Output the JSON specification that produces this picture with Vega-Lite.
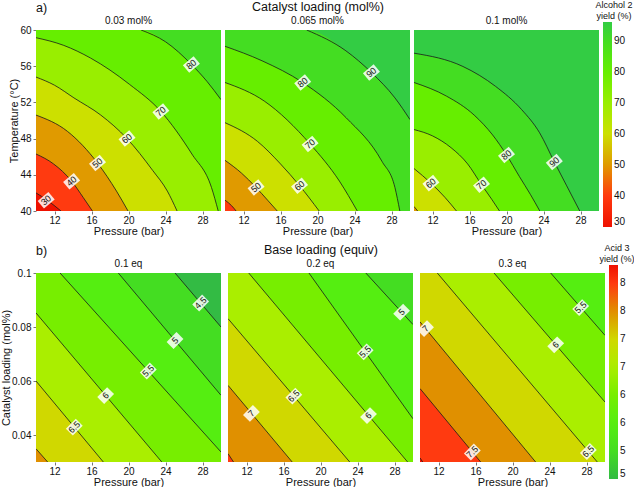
{
  "$schema": "https://vega.github.io/schema/vega-lite/v6.json",
  "background": "white",
  "padding": {"left": 0, "top": 0, "right": 0, "bottom": 0},
  "config": {
    "font": "Liberation Sans",
    "view": {"stroke": null},
    "axis": {"labelFontSize": 10, "titleFontSize": 11, "titleFontWeight": "normal", "labelColor": "#111", "titleColor": "#111", "domain": false, "grid": false, "tickSize": 3, "tickColor": "#777", "labelPadding": 2, "titlePadding": 0, "labelOverlap": false},
    "axisX": {"labelPadding": 1, "titlePadding": 0},
    "legend": {"labelFontSize": 10, "titleFontSize": 9, "titleLineHeight": 11, "titlePadding": 1, "titleFontWeight": "normal", "labelColor": "#111", "titleColor": "#111", "labelOverlap": false},
    "header": {"labelFontSize": 10, "titleFontSize": 12.5, "titleFontWeight": "normal", "labelColor": "#111", "titleColor": "#111"}
  },
  "resolve": {"scale": {"color": "independent"}},
  "columns": 1,
  "align": "none",
  "spacing": 7,
  "concat": [
    {
      "title": {"text": "a)", "anchor": "start", "frame": "group", "align": "left", "offset": -14, "fontSize": 12.5, "fontWeight": "normal", "color": "#111"},
      "data": {"values": [
        {"p":"0.03 mol%","k":"b","lv":90,"x":10,"y":60},{"p":"0.03 mol%","k":"b","lv":90,"x":30,"y":60},
        {"p":"0.03 mol%","k":"e","lv":80,"x":10,"y":60},{"p":"0.03 mol%","k":"c","lv":80,"x":21.36,"y":60},{"p":"0.03 mol%","k":"c","lv":80,"x":24,"y":58.7},{"p":"0.03 mol%","k":"c","lv":80,"x":26.8,"y":56.2},{"p":"0.03 mol%","k":"c","lv":80,"x":28.5,"y":54.3},{"p":"0.03 mol%","k":"c","lv":80,"x":30,"y":52.3},
        {"p":"0.03 mol%","k":"c","lv":70,"x":10,"y":59.15},{"p":"0.03 mol%","k":"c","lv":70,"x":13,"y":58.3},{"p":"0.03 mol%","k":"c","lv":70,"x":15.9,"y":56.9},{"p":"0.03 mol%","k":"c","lv":70,"x":20.1,"y":54},{"p":"0.03 mol%","k":"c","lv":70,"x":23.5,"y":51},{"p":"0.03 mol%","k":"c","lv":70,"x":26.85,"y":46.3},{"p":"0.03 mol%","k":"c","lv":70,"x":28.97,"y":42.6},{"p":"0.03 mol%","k":"c","lv":70,"x":29.7,"y":40},
        {"p":"0.03 mol%","k":"c","lv":60,"x":10,"y":54.8},{"p":"0.03 mol%","k":"c","lv":60,"x":12,"y":53.9},{"p":"0.03 mol%","k":"c","lv":60,"x":14.1,"y":52.5},{"p":"0.03 mol%","k":"c","lv":60,"x":17,"y":50.6},{"p":"0.03 mol%","k":"c","lv":60,"x":19.84,"y":48},{"p":"0.03 mol%","k":"c","lv":60,"x":22.6,"y":44.5},{"p":"0.03 mol%","k":"c","lv":60,"x":24.2,"y":42.2},{"p":"0.03 mol%","k":"c","lv":60,"x":25.25,"y":40},
        {"p":"0.03 mol%","k":"c","lv":50,"x":10,"y":50.6},{"p":"0.03 mol%","k":"c","lv":50,"x":13.4,"y":48.8},{"p":"0.03 mol%","k":"c","lv":50,"x":16.65,"y":45.3},{"p":"0.03 mol%","k":"c","lv":50,"x":18.7,"y":42.2},{"p":"0.03 mol%","k":"c","lv":50,"x":19.95,"y":40},
        {"p":"0.03 mol%","k":"c","lv":40,"x":10,"y":46.3},{"p":"0.03 mol%","k":"c","lv":40,"x":11.9,"y":45.2},{"p":"0.03 mol%","k":"c","lv":40,"x":13.85,"y":43.3},{"p":"0.03 mol%","k":"c","lv":40,"x":15.1,"y":41.5},{"p":"0.03 mol%","k":"c","lv":40,"x":16.1,"y":40},
        {"p":"0.03 mol%","k":"c","lv":30,"x":10,"y":42},{"p":"0.03 mol%","k":"c","lv":30,"x":11.2,"y":41.2},{"p":"0.03 mol%","k":"c","lv":30,"x":12.7,"y":40},
        {"p":"0.03 mol%","k":"l","lv":30,"x":11.1,"y":41.2},{"p":"0.03 mol%","k":"l","lv":40,"x":13.85,"y":43.3},{"p":"0.03 mol%","k":"l","lv":50,"x":16.65,"y":45.3},{"p":"0.03 mol%","k":"l","lv":60,"x":19.84,"y":48},{"p":"0.03 mol%","k":"l","lv":70,"x":23.5,"y":51},{"p":"0.03 mol%","k":"l","lv":80,"x":26.8,"y":56.2},

        {"p":"0.065 mol%","k":"b","lv":96,"x":10,"y":60},{"p":"0.065 mol%","k":"b","lv":96,"x":30,"y":60},
        {"p":"0.065 mol%","k":"e","lv":90,"x":10,"y":60},{"p":"0.065 mol%","k":"c","lv":90,"x":18.83,"y":60},{"p":"0.065 mol%","k":"c","lv":90,"x":23.07,"y":57.7},{"p":"0.065 mol%","k":"c","lv":90,"x":25.83,"y":55.3},{"p":"0.065 mol%","k":"c","lv":90,"x":28.37,"y":52.5},{"p":"0.065 mol%","k":"c","lv":90,"x":30,"y":50.1},
        {"p":"0.065 mol%","k":"c","lv":80,"x":10,"y":58.2},{"p":"0.065 mol%","k":"c","lv":80,"x":14,"y":56.6},{"p":"0.065 mol%","k":"c","lv":80,"x":18.4,"y":54.2},{"p":"0.065 mol%","k":"c","lv":80,"x":23.1,"y":50.3},{"p":"0.065 mol%","k":"c","lv":80,"x":26.96,"y":45.5},{"p":"0.065 mol%","k":"c","lv":80,"x":28.37,"y":42.6},{"p":"0.065 mol%","k":"c","lv":80,"x":28.9,"y":40},
        {"p":"0.065 mol%","k":"c","lv":70,"x":10,"y":54.2},{"p":"0.065 mol%","k":"c","lv":70,"x":14.24,"y":52.15},{"p":"0.065 mol%","k":"c","lv":70,"x":19.2,"y":47.4},{"p":"0.065 mol%","k":"c","lv":70,"x":22.37,"y":43.3},{"p":"0.065 mol%","k":"c","lv":70,"x":24.3,"y":40},
        {"p":"0.065 mol%","k":"c","lv":60,"x":10,"y":49.76},{"p":"0.065 mol%","k":"c","lv":60,"x":13.5,"y":47.7},{"p":"0.065 mol%","k":"c","lv":60,"x":16,"y":45.2},{"p":"0.065 mol%","k":"c","lv":60,"x":18.06,"y":42.8},{"p":"0.065 mol%","k":"c","lv":60,"x":20.18,"y":40},
        {"p":"0.065 mol%","k":"c","lv":50,"x":10,"y":45.6},{"p":"0.065 mol%","k":"c","lv":50,"x":11.77,"y":44.2},{"p":"0.065 mol%","k":"c","lv":50,"x":13.36,"y":42.6},{"p":"0.065 mol%","k":"c","lv":50,"x":14.6,"y":41.2},{"p":"0.065 mol%","k":"c","lv":50,"x":15.65,"y":40},
        {"p":"0.065 mol%","k":"c","lv":40,"x":10,"y":41.2},{"p":"0.065 mol%","k":"c","lv":40,"x":10.7,"y":40.6},{"p":"0.065 mol%","k":"c","lv":40,"x":11.2,"y":40},
        {"p":"0.065 mol%","k":"l","lv":50,"x":13.36,"y":42.6},{"p":"0.065 mol%","k":"l","lv":60,"x":18.06,"y":42.8},{"p":"0.065 mol%","k":"l","lv":70,"x":19.2,"y":47.4},{"p":"0.065 mol%","k":"l","lv":80,"x":18.4,"y":54.2},{"p":"0.065 mol%","k":"l","lv":90,"x":25.83,"y":55.3},

        {"p":"0.1 mol%","k":"b","lv":96,"x":10,"y":60},{"p":"0.1 mol%","k":"b","lv":96,"x":30,"y":60},
        {"p":"0.1 mol%","k":"c","lv":90,"x":10,"y":57.44},{"p":"0.1 mol%","k":"c","lv":90,"x":15.29,"y":55.97},{"p":"0.1 mol%","k":"c","lv":90,"x":18.82,"y":53.77},{"p":"0.1 mol%","k":"c","lv":90,"x":21.64,"y":51.2},{"p":"0.1 mol%","k":"c","lv":90,"x":23.58,"y":48.64},{"p":"0.1 mol%","k":"c","lv":90,"x":25.17,"y":45.42},{"p":"0.1 mol%","k":"c","lv":90,"x":26.51,"y":42.78},{"p":"0.1 mol%","k":"c","lv":90,"x":27.92,"y":40},
        {"p":"0.1 mol%","k":"c","lv":80,"x":10,"y":54.2},{"p":"0.1 mol%","k":"c","lv":80,"x":13.5,"y":52.7},{"p":"0.1 mol%","k":"c","lv":80,"x":16.5,"y":50.6},{"p":"0.1 mol%","k":"c","lv":80,"x":18.5,"y":48.4},{"p":"0.1 mol%","k":"c","lv":80,"x":20,"y":46.2},{"p":"0.1 mol%","k":"c","lv":80,"x":21.4,"y":43.8},{"p":"0.1 mol%","k":"c","lv":80,"x":22.6,"y":41.8},{"p":"0.1 mol%","k":"c","lv":80,"x":23.6,"y":40},
        {"p":"0.1 mol%","k":"c","lv":70,"x":10,"y":49},{"p":"0.1 mol%","k":"c","lv":70,"x":12,"y":48.3},{"p":"0.1 mol%","k":"c","lv":70,"x":14,"y":47},{"p":"0.1 mol%","k":"c","lv":70,"x":15.8,"y":45.2},{"p":"0.1 mol%","k":"c","lv":70,"x":17.3,"y":42.9},{"p":"0.1 mol%","k":"c","lv":70,"x":18.4,"y":41.3},{"p":"0.1 mol%","k":"c","lv":70,"x":19.24,"y":40},
        {"p":"0.1 mol%","k":"c","lv":60,"x":10,"y":44.69},{"p":"0.1 mol%","k":"c","lv":60,"x":11.83,"y":43.08},{"p":"0.1 mol%","k":"c","lv":60,"x":13.35,"y":41.5},{"p":"0.1 mol%","k":"c","lv":60,"x":14.59,"y":40},
        {"p":"0.1 mol%","k":"c","lv":50,"x":10,"y":40.5},{"p":"0.1 mol%","k":"c","lv":50,"x":10.4,"y":40},
        {"p":"0.1 mol%","k":"l","lv":60,"x":11.83,"y":43.08},{"p":"0.1 mol%","k":"l","lv":70,"x":17.3,"y":42.9},{"p":"0.1 mol%","k":"l","lv":80,"x":20,"y":46.2},{"p":"0.1 mol%","k":"l","lv":90,"x":25.17,"y":45.42}
      ]},
      "facet": {"column": {"field": "p", "type": "nominal", "header": {"title": "Catalyst loading (mol%)", "titlePadding": -7, "labelPadding": 4}}},
      "spacing": 4,
      "spec": {
        "width": 185,
        "height": 181,
        "layer": [
          {
            "transform": [{"filter": "datum.k != 'l'"}],
            "mark": {"type": "area", "interpolate": "monotone", "clip": true},
            "encoding": {
              "x": {"field": "x", "type": "quantitative", "scale": {"domain": [10, 30], "nice": false, "zero": false}, "axis": {"title": "Pressure (bar)", "values": [12, 16, 20, 24, 28], "tickCount": 10, "labelOverlap": false}},
              "y": {"field": "y", "type": "quantitative", "stack": null, "scale": {"domain": [40, 60], "nice": false, "zero": false}, "axis": {"title": "Temperature (°C)", "values": [40, 44, 48, 52, 56, 60], "tickCount": 10, "labelOverlap": false, "labelFlush": false}},
              "y2": {"datum": 40},
              "color": {"field": "lv", "type": "quantitative",
                "scale": {"domain": [30, 40, 50, 60, 70, 80, 90, 96], "range": ["#ee1100", "#ff3a10", "#e09a00", "#cce000", "#99ee00", "#66ee00", "#44dd22", "#33cc44"], "interpolate": "rgb"},
                "legend": {"title": ["Alcohol 2", "yield (%)"], "values": [30, 40, 50, 60, 70, 80, 90], "format": "d", "gradientLength": 205, "gradientThickness": 9, "orient": "none", "legendX": 559, "legendY": -29, "titleAlign": "center", "titleAnchor": "middle"}}
            }
          },
          {
            "transform": [{"filter": "datum.k == 'c'"}],
            "mark": {"type": "line", "interpolate": "monotone", "stroke": "#1a1a1a", "strokeWidth": 0.8, "clip": true},
            "encoding": {
              "x": {"field": "x", "type": "quantitative"},
              "y": {"field": "y", "type": "quantitative"},
              "detail": {"field": "lv", "type": "nominal"}
            }
          },
          {
            "transform": [{"filter": "datum.k == 'l'"}],
            "mark": {"type": "point", "shape": "M-1,-0.7L1,-0.7L1,0.7L-1,0.7Z", "size": 196, "filled": true, "fill": "#ffffff", "opacity": 0.85, "strokeWidth": 0, "angle": -40},
            "encoding": {
              "x": {"field": "x", "type": "quantitative"},
              "y": {"field": "y", "type": "quantitative"}
            }
          },
          {
            "transform": [{"filter": "datum.k == 'l'"}],
            "mark": {"type": "text", "fontSize": 9, "angle": -40, "color": "#111", "baseline": "middle", "align": "center"},
            "encoding": {
              "x": {"field": "x", "type": "quantitative"},
              "y": {"field": "y", "type": "quantitative"},
              "text": {"field": "lv", "type": "quantitative", "format": "~g"}
            }
          }
        ]
      }
    },
    {
      "title": {"text": "b)", "anchor": "start", "frame": "group", "align": "left", "offset": -14, "fontSize": 12.5, "fontWeight": "normal", "color": "#111"},
      "data": {"values": [
        {"p":"0.1 eq","k":"b","lv":7.5,"x":10,"y":0.03},{"p":"0.1 eq","k":"b","lv":7.5,"x":30,"y":0.03},
        {"p":"0.1 eq","k":"c","lv":7,"x":10,"y":0.0349},{"p":"0.1 eq","k":"c","lv":7,"x":11.26,"y":0.03},{"p":"0.1 eq","k":"e","lv":7,"x":30,"y":0.03},
        {"p":"0.1 eq","k":"c","lv":6.5,"x":10,"y":0.06},{"p":"0.1 eq","k":"c","lv":6.5,"x":17.28,"y":0.03},{"p":"0.1 eq","k":"e","lv":6.5,"x":30,"y":0.03},
        {"p":"0.1 eq","k":"c","lv":6,"x":10,"y":0.0852},{"p":"0.1 eq","k":"c","lv":6,"x":23.6,"y":0.03},{"p":"0.1 eq","k":"e","lv":6,"x":30,"y":0.03},
        {"p":"0.1 eq","k":"c","lv":5.5,"x":12.6,"y":0.1},{"p":"0.1 eq","k":"c","lv":5.5,"x":30,"y":0.0337},
        {"p":"0.1 eq","k":"c","lv":5,"x":18.9,"y":0.1},{"p":"0.1 eq","k":"c","lv":5,"x":30,"y":0.0547},
        {"p":"0.1 eq","k":"c","lv":4.5,"x":25.03,"y":0.1},{"p":"0.1 eq","k":"c","lv":4.5,"x":30,"y":0.08},
        {"p":"0.1 eq","k":"l","lv":6.5,"x":14.14,"y":0.0429},{"p":"0.1 eq","k":"l","lv":6,"x":17.53,"y":0.0546},{"p":"0.1 eq","k":"l","lv":5.5,"x":22.14,"y":0.0637},{"p":"0.1 eq","k":"l","lv":5,"x":25.03,"y":0.075},{"p":"0.1 eq","k":"l","lv":4.5,"x":27.8,"y":0.0889},

        {"p":"0.2 eq","k":"b","lv":8,"x":10,"y":0.03},{"p":"0.2 eq","k":"b","lv":8,"x":30,"y":0.03},
        {"p":"0.2 eq","k":"c","lv":7.5,"x":10,"y":0.0331},{"p":"0.2 eq","k":"c","lv":7.5,"x":10.6,"y":0.03},{"p":"0.2 eq","k":"e","lv":7.5,"x":30,"y":0.03},
        {"p":"0.2 eq","k":"c","lv":7,"x":10,"y":0.0584},{"p":"0.2 eq","k":"c","lv":7,"x":16.94,"y":0.03},{"p":"0.2 eq","k":"e","lv":7,"x":30,"y":0.03},
        {"p":"0.2 eq","k":"c","lv":6.5,"x":10,"y":0.0831},{"p":"0.2 eq","k":"c","lv":6.5,"x":23.16,"y":0.03},{"p":"0.2 eq","k":"e","lv":6.5,"x":30,"y":0.03},
        {"p":"0.2 eq","k":"c","lv":6,"x":12.24,"y":0.1},{"p":"0.2 eq","k":"c","lv":6,"x":29.42,"y":0.03},{"p":"0.2 eq","k":"e","lv":6,"x":30,"y":0.03},
        {"p":"0.2 eq","k":"c","lv":5.5,"x":18.75,"y":0.1},{"p":"0.2 eq","k":"c","lv":5.5,"x":30,"y":0.046},
        {"p":"0.2 eq","k":"c","lv":5,"x":24.9,"y":0.1},{"p":"0.2 eq","k":"c","lv":5,"x":30,"y":0.0809},
        {"p":"0.2 eq","k":"l","lv":7,"x":12.53,"y":0.048},{"p":"0.2 eq","k":"l","lv":6.5,"x":17.12,"y":0.0544},{"p":"0.2 eq","k":"l","lv":6,"x":25.19,"y":0.0472},{"p":"0.2 eq","k":"l","lv":5.5,"x":24.83,"y":0.0708},{"p":"0.2 eq","k":"l","lv":5,"x":28.77,"y":0.0855},

        {"p":"0.3 eq","k":"b","lv":8.33,"x":10,"y":0.03},{"p":"0.3 eq","k":"b","lv":8.33,"x":30,"y":0.03},
        {"p":"0.3 eq","k":"c","lv":8,"x":10,"y":0.0315},{"p":"0.3 eq","k":"c","lv":8,"x":10.3,"y":0.03},{"p":"0.3 eq","k":"e","lv":8,"x":30,"y":0.03},
        {"p":"0.3 eq","k":"c","lv":7.5,"x":10,"y":0.0572},{"p":"0.3 eq","k":"c","lv":7.5,"x":16.56,"y":0.03},{"p":"0.3 eq","k":"e","lv":7.5,"x":30,"y":0.03},
        {"p":"0.3 eq","k":"c","lv":7,"x":10,"y":0.0819},{"p":"0.3 eq","k":"c","lv":7,"x":22.5,"y":0.03},{"p":"0.3 eq","k":"e","lv":7,"x":30,"y":0.03},
        {"p":"0.3 eq","k":"c","lv":6.5,"x":11.87,"y":0.1},{"p":"0.3 eq","k":"c","lv":6.5,"x":29.17,"y":0.03},{"p":"0.3 eq","k":"e","lv":6.5,"x":30,"y":0.03},
        {"p":"0.3 eq","k":"c","lv":6,"x":18,"y":0.1},{"p":"0.3 eq","k":"c","lv":6,"x":30,"y":0.0522},
        {"p":"0.3 eq","k":"c","lv":5.5,"x":24.13,"y":0.1},{"p":"0.3 eq","k":"c","lv":5.5,"x":30,"y":0.0769},
        {"p":"0.3 eq","k":"l","lv":7.5,"x":15.66,"y":0.0337},{"p":"0.3 eq","k":"l","lv":7,"x":10.6,"y":0.0794},{"p":"0.3 eq","k":"l","lv":6.5,"x":28.2,"y":0.0339},{"p":"0.3 eq","k":"l","lv":6,"x":24.67,"y":0.0734},{"p":"0.3 eq","k":"l","lv":5.5,"x":27.37,"y":0.0872}
      ]},
      "facet": {"column": {"field": "p", "type": "nominal", "header": {"title": "Base loading (equiv)", "titlePadding": -7, "labelPadding": 4}}},
      "spacing": 4,
      "spec": {
        "width": 185,
        "height": 189,
        "layer": [
          {
            "transform": [{"filter": "datum.k != 'l'"}],
            "mark": {"type": "area", "interpolate": "linear", "clip": true},
            "encoding": {
              "x": {"field": "x", "type": "quantitative", "scale": {"domain": [10, 30], "nice": false, "zero": false}, "axis": {"title": "Pressure (bar)", "values": [12, 16, 20, 24, 28], "tickCount": 10, "labelOverlap": false}},
              "y": {"field": "y", "type": "quantitative", "stack": null, "scale": {"domain": [0.03, 0.1], "nice": false, "zero": false}, "axis": {"title": "Catalyst loading (mol%)", "values": [0.04, 0.06, 0.08, 0.1], "tickCount": 10, "format": "~g", "labelOverlap": false, "labelFlush": false}},
              "y2": {"datum": 0.1},
              "color": {"field": "lv", "type": "quantitative",
                "scale": {"domain": [4.5, 5, 5.5, 6, 6.5, 7, 7.5, 8, 8.33], "range": ["#33bb44", "#44dd22", "#55ee11", "#77ee00", "#aaee00", "#d0d800", "#e09000", "#ff3a10", "#ee1100"], "interpolate": "rgb"},
                "legend": {"title": ["Acid 3", "yield (%)"], "values": [4.5, 5, 5.5, 6, 6.5, 7, 7.5, 8], "format": "~g", "gradientLength": 214, "gradientThickness": 9, "orient": "none", "legendX": 563, "legendY": -29, "titleAlign": "center", "titleAnchor": "middle"}}
            }
          },
          {
            "transform": [{"filter": "datum.k == 'c'"}],
            "mark": {"type": "line", "stroke": "#1a1a1a", "strokeWidth": 0.8, "clip": true},
            "encoding": {
              "x": {"field": "x", "type": "quantitative"},
              "y": {"field": "y", "type": "quantitative"},
              "detail": {"field": "lv", "type": "nominal"}
            }
          },
          {
            "transform": [{"filter": "datum.k == 'l'"}],
            "mark": {"type": "point", "shape": "M-1,-0.7L1,-0.7L1,0.7L-1,0.7Z", "size": 196, "filled": true, "fill": "#ffffff", "opacity": 0.85, "strokeWidth": 0, "angle": -45},
            "encoding": {
              "x": {"field": "x", "type": "quantitative"},
              "y": {"field": "y", "type": "quantitative"}
            }
          },
          {
            "transform": [{"filter": "datum.k == 'l'"}],
            "mark": {"type": "text", "fontSize": 9, "angle": -45, "color": "#111", "baseline": "middle", "align": "center"},
            "encoding": {
              "x": {"field": "x", "type": "quantitative"},
              "y": {"field": "y", "type": "quantitative"},
              "text": {"field": "lv", "type": "quantitative", "format": "~g"}
            }
          }
        ]
      }
    }
  ]
}
